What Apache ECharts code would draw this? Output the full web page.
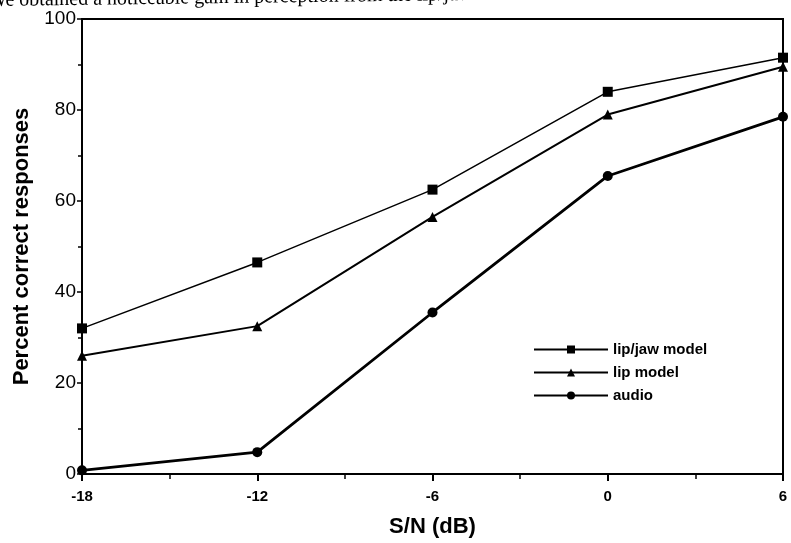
<!DOCTYPE html>
<html>
<head>
<meta charset="utf-8">
<script src="https://cdn.jsdelivr.net/npm/echarts@6/dist/echarts.min.js"></script>
<style>html,body{margin:0;padding:0;background:#fff;}#c{width:791px;height:543px;}</style>
</head>
<body>
<div id="c"></div>
<script>
var snr = [-18, -12, -6, 0, 6];
var lipJaw = [32, 46.5, 62.5, 84, 91.5];
var lip = [26, 32.5, 56.5, 79, 89.5];
var audio = [0.8, 4.8, 35.5, 65.5, 78.5];
var seriesNames = ['lip/jaw model', 'lip model', 'audio'];
var xTicks = [-18, -12, -6, 0, 6];
var yTicks = [0, 20, 40, 60, 80, 100];

function pairs(v){ return snr.map(function(x,i){ return [x, v[i]]; }); }

var chart = echarts.init(document.getElementById('c'));
var axisTxt = {color:'#000', fontFamily:'Liberation Sans, Arial, sans-serif'};
chart.setOption({
  animation:false,
  backgroundColor:'#fff',
  grid:{left:82, right:8, top:19, bottom:66, show:true, borderColor:'#000', borderWidth:2},
  legend:{
    orient:'vertical', left:528, top:337, itemWidth:74, itemHeight:10, itemGap:8,
    data:seriesNames,
    textStyle:{color:'#000', fontSize:15, fontFamily:'Liberation Sans, Arial, sans-serif', fontWeight:'bold'}
  },
  xAxis:{
    type:'value', min:-18, max:6, interval:6,
    name:'S/N (dB)', nameLocation:'middle', nameGap:42,
    nameTextStyle:{color:'#000', fontSize:22, fontWeight:'bold', fontFamily:'Liberation Sans, Arial, sans-serif'},
    axisLine:{onZero:false, lineStyle:{color:'#000', width:2}},
    axisTick:{show:true, inside:false, length:7, lineStyle:{color:'#000', width:2}},
    minorTick:{show:true, splitNumber:2, length:5, lineStyle:{color:'#000', width:1.5}},
    splitLine:{show:false},
    axisLabel:Object.assign({fontSize:15, fontWeight:'bold', margin:15, formatter:function(v){return xTicks.indexOf(v)>=0?String(v):'';}}, axisTxt)
  },
  yAxis:{
    type:'value', min:0, max:100, interval:20,
    name:'Percent correct responses', nameLocation:'middle', nameGap:42,
    nameTextStyle:{color:'#000', fontSize:22, fontWeight:'bold', fontFamily:'Liberation Sans, Arial, sans-serif'},
    axisLine:{onZero:false, lineStyle:{color:'#000', width:2}},
    axisTick:{show:true, inside:false, length:5, lineStyle:{color:'#000', width:1.5}},
    minorTick:{show:true, splitNumber:2, length:4, lineStyle:{color:'#000', width:1.5}},
    splitLine:{show:false},
    axisLabel:Object.assign({fontSize:19, margin:6, formatter:function(v){return yTicks.indexOf(v)>=0?String(v):'';}}, axisTxt)
  },
  graphic:[{
    type:'text', left:-12, top:-16, rotation:0.0125,
    style:{text:'We obtained a noticeable gain in perception from the lip/jaw model', fill:'#000', font:'20px "Liberation Serif", "Times New Roman", serif'}
  }],
  series:[
    {name:seriesNames[0], type:'line', data:pairs(lipJaw), symbol:'rect', symbolSize:10,
     lineStyle:{color:'#000', width:1.5}, itemStyle:{color:'#000'}},
    {name:seriesNames[1], type:'line', data:pairs(lip), symbol:'triangle', symbolSize:10,
     lineStyle:{color:'#000', width:2}, itemStyle:{color:'#000'}},
    {name:seriesNames[2], type:'line', data:pairs(audio), symbol:'circle', symbolSize:10,
     lineStyle:{color:'#000', width:2.8}, itemStyle:{color:'#000'}}
  ]
});
</script>
</body>
</html>
